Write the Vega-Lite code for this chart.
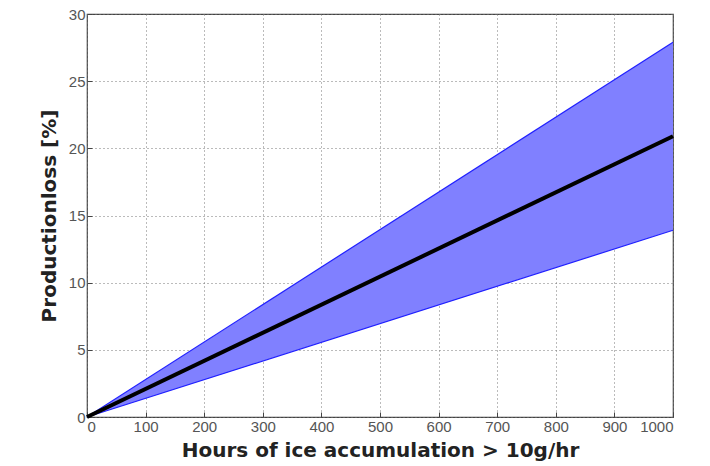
{
  "$schema": "https://vega.github.io/schema/vega-lite/v6.json",
  "width": 586,
  "height": 403,
  "autosize": {"type": "none"},
  "padding": {"left": 87, "top": 14, "right": 37, "bottom": 49},
  "background": "white",
  "config": {
    "view": {"stroke": "#444", "strokeWidth": 1.2},
    "font": "Liberation Sans",
    "axis": {
      "grid": true,
      "gridColor": "#777",
      "gridDash": [1, 3],
      "gridWidth": 1,
      "domain": false,
      "tickColor": "#444",
      "tickSize": -5,
      "labelColor": "#555",
      "labelFontSize": 15,
      "labelFont": "Liberation Sans",
      "titleFont": "DejaVu Sans",
      "titleFontSize": 20,
      "titleFontWeight": "bold",
      "titleColor": "#222"
    }
  },
  "data": {
    "values": [
      {"hours": 0, "lower": 0, "mid": 0, "upper": 0},
      {"hours": 1000, "lower": 13.9, "mid": 20.9, "upper": 27.9}
    ]
  },
  "layer": [
    {
      "mark": {"type": "area", "color": "#8080ff", "opacity": 1},
      "encoding": {
        "x": {"field": "hours", "type": "quantitative", "scale": {"domain": [0, 1000], "nice": false}, "axis": {"values": [0,100,200,300,400,500,600,700,800,900,1000], "format": "d", "title": "Hours of ice accumulation > 10g/hr", "labelPadding": 7, "titlePadding": 6}},
        "y": {"field": "upper", "type": "quantitative", "scale": {"domain": [0, 30], "nice": false}, "axis": {"values": [0,5,10,15,20,25,30], "title": "Productionloss [%]", "labelPadding": 7, "titlePadding": 9}},
        "y2": {"field": "lower"}
      }
    },
    {
      "mark": {"type": "line", "color": "#2020ff", "strokeWidth": 1.2},
      "encoding": {
        "x": {"field": "hours", "type": "quantitative"},
        "y": {"field": "upper", "type": "quantitative"}
      }
    },
    {
      "mark": {"type": "line", "color": "#2020ff", "strokeWidth": 1.2},
      "encoding": {
        "x": {"field": "hours", "type": "quantitative"},
        "y": {"field": "lower", "type": "quantitative"}
      }
    },
    {
      "mark": {"type": "line", "color": "#000000", "strokeWidth": 4},
      "encoding": {
        "x": {"field": "hours", "type": "quantitative"},
        "y": {"field": "mid", "type": "quantitative"}
      }
    }
  ]
}
